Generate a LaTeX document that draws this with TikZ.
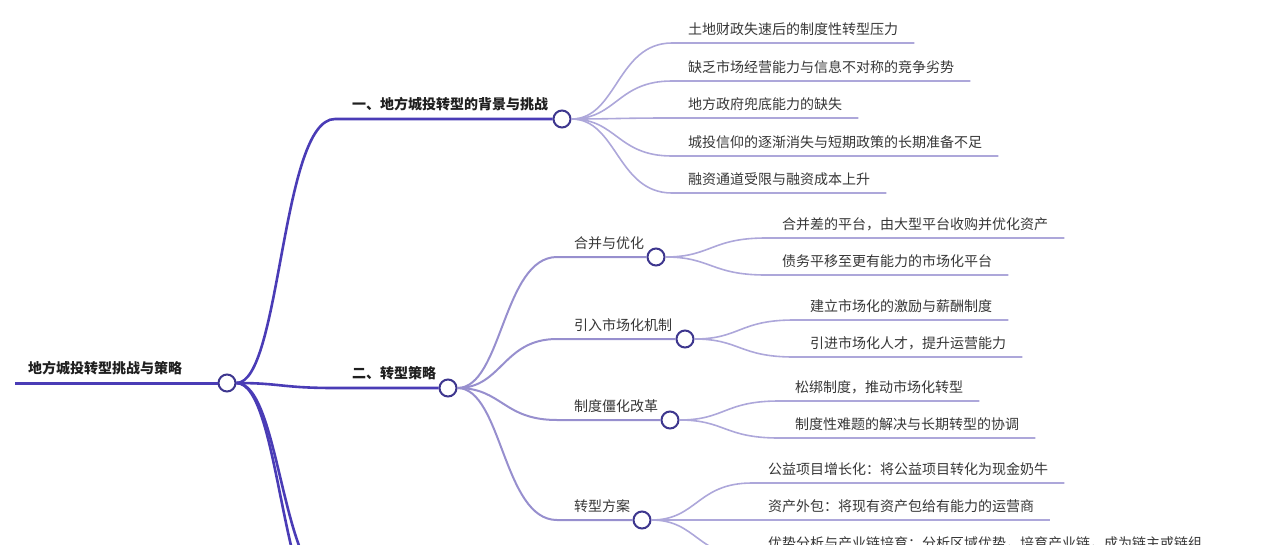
\documentclass[tikz,border=0pt]{standalone}
\usepackage{fontspec}
\newfontfamily\cjk{Noto Sans CJK SC}
\definecolor{rama}{HTML}{4A3CB6}
\definecolor{sub}{HTML}{978FCE}
\definecolor{hoja}{HTML}{ADA7DA}
\definecolor{borde}{HTML}{3D368E}
\definecolor{texto}{HTML}{363636}

\begin{document}
\begin{tikzpicture}[x=1pt, y=-1pt,
    every node/.style={font=\cjk\fontsize{14}{16}\selectfont, text=texto, inner sep=0pt},
    titulo/.style={anchor=base west, font=\cjk\bfseries\fontsize{14}{16}\selectfont, text=black!88},
    etiqueta/.style={anchor=base west},
    punto/.style={circle, draw=borde, fill=white, line width=2pt, minimum size=17pt},
    lrama/.style={rama, line width=2.6pt},
    lsub/.style={sub, line width=2pt},
    lhoja/.style={hoja, line width=1.6pt}]
    \useasboundingbox (0,0) rectangle (1280,544);
    \clip (0,0) rectangle (1280,544);

    % Raiz
    \coordinate (inicio) at (15,383);
    \node[punto] (raiz) at (227,383) {};
    \node[titulo] (traiz) at (28,373) {地方城投转型挑战与策略};
    \draw[rama, line width=3pt] (inicio) -- (raiz);

    % Primer nivel
    \node[punto] (n1) at (562,119) {};
    \node[titulo] (t1) at (352,109) {一、地方城投转型的背景与挑战};
    \coordinate (p1) at (335,119);
    \draw[lrama] (raiz) .. controls +(54,0) and +(-54,0) .. (p1) -- (n1);

    \node[punto] (n2) at (448,388) {};
    \node[titulo] (t2) at (352,378) {二、转型策略};
    \coordinate (p2) at (335,388);
    \draw[lrama] (raiz) .. controls +(54,0) and +(-54,0) .. (p2) -- (n2);

    % ramas que siguen por debajo del borde
    \coordinate (p3) at (335,626);
    \coordinate (p4) at (335,588);
    \draw[lrama] (raiz) .. controls +(54,0) and +(-54,0) .. (p3);
    \draw[lrama] (raiz) .. controls +(54,0) and +(-54,0) .. (p4);

    % Hojas de la primera rama
    \foreach \yy/\txt [count=\i] in {43/土地财政失速后的制度性转型压力,
        81/缺乏市场经营能力与信息不对称的竞争劣势,
        118/地方政府兜底能力的缺失,
        156/城投信仰的逐渐消失与短期政策的长期准备不足,
        193/融资通道受限与融资成本上升}{
        \node[etiqueta] (h1\i) at (688,\yy-9) {\txt};
        \coordinate (c1\i) at (672,\yy);
        \draw[lhoja] (n1) .. controls +(55,0) and +(-55,0) .. (c1\i) -- ([xshift=16pt]h1\i.east |- c1\i);
    }

    % Subramas de la segunda rama
    \foreach \yy/\xc/\txt [count=\i] in {257/656/合并与优化, 339/685/引入市场化机制,
        420/670/制度僵化改革, 520/642/转型方案}{
        \node[etiqueta] (s\i) at (574,\yy-9) {\txt};
        \node[punto] (m\i) at (\xc,\yy) {};
        \coordinate (q\i) at (557,\yy);
        \draw[lsub] (n2) .. controls +(54,0) and +(-54,0) .. (q\i) -- (m\i);
    }

    \foreach \yy/\txt [count=\i] in {238/合并差的平台，由大型平台收购并优化资产,
        275/债务平移至更有能力的市场化平台}{
        \node[etiqueta] (ha\i) at (782,\yy-9) {\txt};
        \coordinate (ca\i) at (766,\yy);
        \draw[lhoja] (m1) .. controls +(55,0) and +(-55,0) .. (ca\i) -- ([xshift=16pt]ha\i.east |- ca\i);
    }

    \foreach \yy/\txt [count=\i] in {320/建立市场化的激励与薪酬制度,
        357/引进市场化人才，提升运营能力}{
        \node[etiqueta] (hb\i) at (810,\yy-9) {\txt};
        \coordinate (cb\i) at (794,\yy);
        \draw[lhoja] (m2) .. controls +(55,0) and +(-55,0) .. (cb\i) -- ([xshift=16pt]hb\i.east |- cb\i);
    }

    \foreach \yy/\txt [count=\i] in {401/松绑制度，推动市场化转型,
        438/制度性难题的解决与长期转型的协调}{
        \node[etiqueta] (hc\i) at (795,\yy-9) {\txt};
        \coordinate (cc\i) at (779,\yy);
        \draw[lhoja] (m3) .. controls +(55,0) and +(-55,0) .. (cc\i) -- ([xshift=16pt]hc\i.east |- cc\i);
    }

    \foreach \yy/\txt [count=\i] in {483/公益项目增长化：将公益项目转化为现金奶牛,
        520/资产外包：将现有资产包给有能力的运营商,
        557/优势分析与产业链培育：分析区域优势，培育产业链，成为链主或链组}{
        \node[etiqueta] (hd\i) at (768,\yy-9) {\txt};
        \coordinate (cd\i) at (752,\yy);
        \draw[lhoja] (m4) .. controls +(55,0) and +(-55,0) .. (cd\i) -- ([xshift=16pt]hd\i.east |- cd\i);
    }
\end{tikzpicture}
\end{document}
